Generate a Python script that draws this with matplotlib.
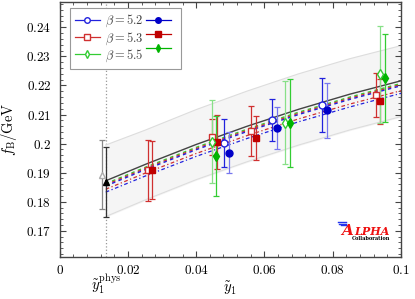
import numpy as np
import matplotlib
matplotlib.use('Agg')
import matplotlib.pyplot as plt
from matplotlib.ticker import FuncFormatter, MultipleLocator
from matplotlib.lines import Line2D

plt.rcParams['mathtext.fontset'] = 'cm'
plt.rcParams['font.family'] = 'serif'
plt.rcParams['font.serif'] = ['DejaVu Serif']

# data points: (x, y, error)
x52_open = [0.0482, 0.0623, 0.0769]
y52_open = [0.2001, 0.2080, 0.2133]
e52_open = [0.0083, 0.0072, 0.0093]
x52_fill = [0.0496, 0.0636, 0.0783]
y52_fill = [0.1969, 0.2055, 0.2114]
e52_fill = [0.0070, 0.0072, 0.0096]

x53_open = [0.0258, 0.0447, 0.0561, 0.0926]
y53_open = [0.1908, 0.2022, 0.2044, 0.2167]
e53_open = [0.0104, 0.0061, 0.0087, 0.0077]
x53_fill = [0.0271, 0.0461, 0.0574, 0.0937]
y53_fill = [0.1910, 0.2006, 0.2019, 0.2146]
e53_fill = [0.0100, 0.0092, 0.0077, 0.0077]

x55_open = [0.0445, 0.0660, 0.0939]
y55_open = [0.2007, 0.2072, 0.2238]
e55_open = [0.0144, 0.0143, 0.0168]
x55_fill = [0.0459, 0.0675, 0.0952]
y55_fill = [0.1958, 0.2071, 0.2226]
e55_fill = [0.0138, 0.0150, 0.0150]

# physical point results
y1_phys = 0.0135
x_phys_gray = 0.0123
y_phys_gray = 0.1893
e_phys_gray = 0.0118
y_phys = 0.1868
e_phys = 0.0121

# fit curves read at a few x positions
x_fit = [0.0135, 0.025, 0.04, 0.055, 0.07, 0.085, 0.1]
fit_cont = [0.1872, 0.1928, 0.1997, 0.2060, 0.2118, 0.2170, 0.2216]
band_hi = [0.1995, 0.2046, 0.2117, 0.2181, 0.2240, 0.2292, 0.2337]
band_lo = [0.1749, 0.1806, 0.1876, 0.1938, 0.1995, 0.2047, 0.2093]
fit55 = [0.1862, 0.1918, 0.1987, 0.2050, 0.2108, 0.2160, 0.2207]
fit53a = [0.1858, 0.1914, 0.1983, 0.2046, 0.2104, 0.2156, 0.2203]
fit52a = [0.1854, 0.1910, 0.1979, 0.2042, 0.2100, 0.2152, 0.2199]
fit53b = [0.1843, 0.1898, 0.1966, 0.2028, 0.2085, 0.2136, 0.2182]
fit52b = [0.1833, 0.1888, 0.1956, 0.2018, 0.2075, 0.2126, 0.2173]

blue = '#2222dd'
blue_f = '#0000c8'
red = '#d03030'
red_f = '#c00000'
green = '#33cc33'
green_f = '#00b400'

fig = plt.figure(figsize=(4.15, 2.99), dpi=100)
ax = fig.add_axes([0.1436, 0.1405, 0.8228, 0.8528])

ax.axvline(y1_phys, color='#999999', ls=':', lw=0.9, zorder=1)

ax.fill_between(x_fit, band_lo, band_hi, color='#f5f5f5', zorder=0)
ax.plot(x_fit, band_hi, color='#dddddd', lw=0.8, zorder=1)
ax.plot(x_fit, band_lo, color='#dddddd', lw=0.8, zorder=1)

ax.plot(x_fit, fit_cont, color='#444444', lw=1.0, zorder=3)
ax.plot(x_fit, fit55, color=green, lw=1.0, dashes=(2.5, 2.5), zorder=3)
ax.plot(x_fit, fit53a, color=red, lw=1.0, dashes=(2.5, 2.5), zorder=3)
ax.plot(x_fit, fit52a, color=blue, lw=1.0, dashes=(2.5, 2.5), zorder=3)
ax.plot(x_fit, fit53b, color=red, lw=0.9, dashes=(3, 2, 1, 2), zorder=3)
ax.plot(x_fit, fit52b, color=blue, lw=0.9, dashes=(3, 2, 1, 2), zorder=3)

ebkw = dict(capsize=2.2, elinewidth=0.9, capthick=0.9, ms=5, zorder=4, ls='none')
ax.errorbar(x52_open, y52_open, yerr=e52_open, fmt='o', color=blue, mfc='white', mec=blue, **ebkw)
ax.errorbar(x52_fill, y52_fill, yerr=e52_fill, fmt='o', color=blue_f, ecolor='#7777ee', **ebkw)
ax.errorbar(x53_open, y53_open, yerr=e53_open, fmt='s', color=red, mfc='white', mec=red, **ebkw)
ax.errorbar(x53_fill, y53_fill, yerr=e53_fill, fmt='s', color=red_f, ecolor=red, **ebkw)
ax.errorbar(x55_open, y55_open, yerr=e55_open, fmt='d', color=green, mfc='white', mec=green,
            ecolor='#88e088', **ebkw)
ax.errorbar(x55_fill, y55_fill, yerr=e55_fill, fmt='d', color=green_f, ecolor=green, **ebkw)

ax.errorbar([x_phys_gray], [y_phys_gray], yerr=[e_phys_gray], fmt='^', color='#888888',
            mfc='white', mec='#aaaaaa', **ebkw)
ax.errorbar([y1_phys], [y_phys], yerr=[e_phys], fmt='^', color='black', ecolor='#333333', **ebkw)

ax.set_xlim(0, 0.1)
ax.set_ylim(0.161, 0.2487)
ax.xaxis.set_major_locator(MultipleLocator(0.02))
ax.xaxis.set_minor_locator(MultipleLocator(0.004))
ax.yaxis.set_major_locator(MultipleLocator(0.01))
ax.yaxis.set_minor_locator(MultipleLocator(0.002))
fmt = FuncFormatter(lambda v, p: '$%g$' % round(v, 4))
ax.xaxis.set_major_formatter(fmt)
ax.yaxis.set_major_formatter(fmt)
ax.tick_params(which='both', direction='in', top=True, right=True, colors='#444444',
               labelcolor='black', labelsize=9.5)
ax.tick_params(which='major', length=4.5, width=0.8)
ax.tick_params(which='minor', length=2.5, width=0.6)
ax.tick_params(axis='y', pad=6)
ax.tick_params(axis='x', pad=5)
for s in ax.spines.values():
    s.set_color('#444444')
    s.set_linewidth(1.0)

ax.set_ylabel(r'$f_\mathrm{B}/\mathrm{GeV}$', fontsize=10.5)
ax.yaxis.set_label_coords(-0.118, 0.5)
ax.set_xlabel(r'$\tilde{y}_1$', fontsize=10.5, va='center')
ax.xaxis.set_label_coords(0.5, -0.122)
ax.text(y1_phys, -0.108, r'$\tilde{y}_1^\mathrm{phys}$', transform=ax.get_xaxis_transform(),
        ha='center', va='center', fontsize=10.5)

# legend: open marker, label, filled marker
h_open = [Line2D([], [], color=c, marker=m, mfc='white', mec=c, ms=4, lw=0.9)
          for c, m in [(blue, 'o'), (red, 's'), (green, 'd')]]
h_fill = [Line2D([], [], color=c, marker=m, ms=4, lw=0.9)
          for c, m in [(blue_f, 'o'), (red_f, 's'), (green_f, 'd')]]
labels = [r'$\beta = 5.2$', r'$\beta = 5.3$', r'$\beta = 5.5$', '', '', '']
leg = ax.legend(h_open + h_fill, labels, ncol=2, loc='upper left', bbox_to_anchor=(0.03, 0.977),
                fontsize=9, handlelength=2.0, handletextpad=0.4, columnspacing=0.2,
                labelspacing=0.08, borderpad=0.4, borderaxespad=0, fancybox=False,
                framealpha=1)
leg.get_frame().set_edgecolor('#999999')
leg.get_frame().set_linewidth(0.8)
for t in leg.get_texts():
    t.set_color('#444444')

# ALPHA Collaboration logo
ax.text(0.824, 0.088, 'A', transform=ax.transAxes, color='#ee1111', fontsize=11,
        style='italic', fontweight='bold', family='DejaVu Serif')
ax.text(0.862, 0.088, 'LPHA', transform=ax.transAxes, color='#ee1111', fontsize=8,
        style='italic', fontweight='bold', family='DejaVu Serif')
ax.text(0.856, 0.066, 'Collaboration', transform=ax.transAxes, color='black', fontsize=3.6,
        family='DejaVu Serif', fontweight='bold')
for i, yy in enumerate([0.137, 0.131, 0.125]):
    ax.plot([0.815 + 0.004 * i, 0.84], [yy, yy], transform=ax.transAxes, color='#2233ee',
            lw=1.0, zorder=5)

fig.savefig('out.png', dpi=100)
